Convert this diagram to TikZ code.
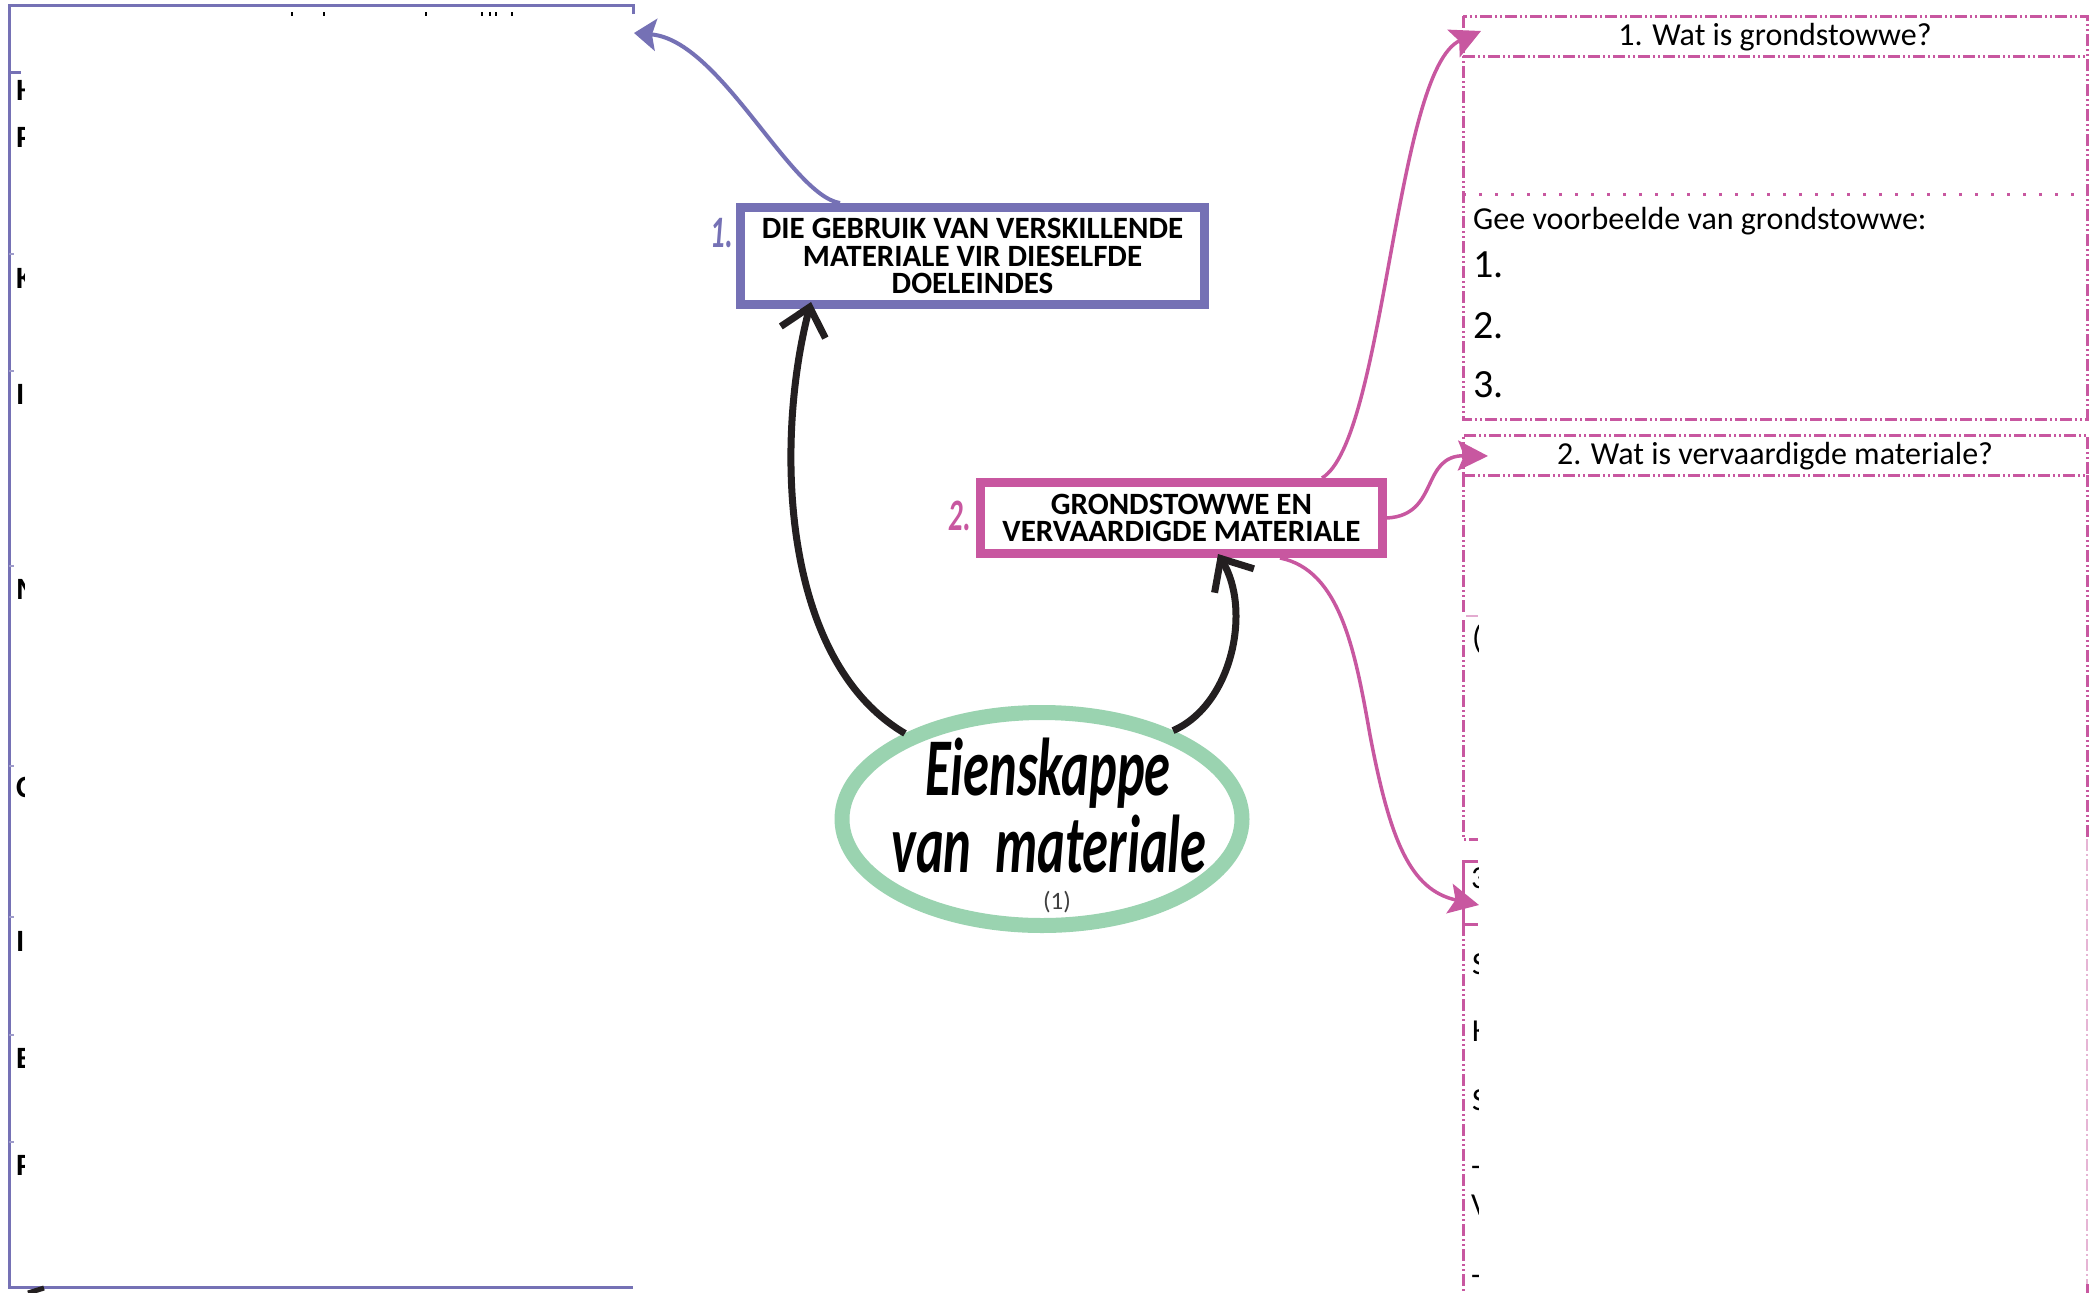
\documentclass[tikz,border=0pt]{standalone}
\usepackage{fontspec}
\setmainfont{Carlito}
\newfontfamily\handfont[FakeStretch=0.64]{Carlito}
\usetikzlibrary{arrows.meta,calc,shapes.geometric}

\definecolor{lilac}{RGB}{117,113,181}
\definecolor{rose}{RGB}{200,87,160}
\definecolor{mint}{RGB}{154,211,176}
\definecolor{ink}{RGB}{35,31,32}

\tikzset{
  topicbox/.style={draw, line width=9pt, inner sep=0pt, outer sep=4.5pt, align=center,
    font=\fontsize{31pt}{27.5pt}\selectfont\bfseries, text=black},
  pinkedge/.style={draw=rose, line width=3pt,
    dash pattern=on 12pt off 3pt on 2pt off 3pt on 2pt off 3pt},
  pinkdots/.style={draw=rose, line width=3pt, dash pattern=on 2.5pt off 13.5pt},
  headcell/.style={pinkedge, minimum width=624pt, minimum height=40pt, inner sep=0pt,
    text height=23pt, text depth=5pt, font=\fontsize{32pt}{38pt}\selectfont},
  bodytext/.style={inner sep=0pt, font=\fontsize{32pt}{38pt}\selectfont},
  bignum/.style={inner sep=0pt, font=\fontsize{40pt}{46pt}\selectfont},
  stubletter/.style={inner sep=0pt, anchor=base west, font=\fontsize{31pt}{36pt}\selectfont\bfseries},
  stubletterlight/.style={inner sep=0pt, anchor=base west, font=\fontsize{32pt}{38pt}\selectfont},
  handtext/.style={inner sep=0pt, anchor=base, text depth=0pt,
    font=\fontsize{82pt}{90pt}\selectfont\handfont\bfseries\itshape},
  handlabel/.style={inner sep=0pt, anchor=base east, font=\fontsize{45pt}{50pt}\selectfont\handfont\bfseries\itshape},
  inkarrow/.style={draw=ink, line width=7pt, -{Straight Barb[length=26pt,width=46pt]}},
  lilacarrow/.style={draw=lilac, line width=4pt, -{Stealth[length=22pt,width=32pt,inset=4pt]}},
  rosearrow/.style={draw=rose, line width=3.5pt, -{Stealth[length=30pt,width=30pt,inset=6pt]}},
}

\begin{document}
\begin{tikzpicture}[x=1pt,y=-1pt]
\fill[white] (0,0) rectangle (2099,1293);
\useasboundingbox (0,0) rectangle (2099,1293);

% ---------- left worksheet panel (purple) ----------
\draw[lilac, line width=3pt] (633,14) -- (633,5) -- (9,5) -- (9,1287) -- (633,1287);
\draw[lilac, line width=3pt] (9,72) -- (21,72);
\foreach \yy in {254,371,566,766,917,1035,1142}
  \draw[lilac!70, line width=2pt] (9,\yy) -- (14,\yy);
\foreach \xx in {292,324,426,482,490,496,512}
  \draw[black, line width=2pt] (\xx,12) -- (\xx,16);
\begin{scope}
  \clip (10.5,60) rectangle (24.5,1285);
  \node[stubletter] (lh) at (16,100) {H};
  \node[stubletter] (lp) at (16,147) {P};
  \node[stubletter] (lk) at (16,288) {K};
  \node[stubletter] (li) at (16,404) {I};
  \node[stubletter] (lm) at (16,599) {M};
  \node[stubletter] (lc) at (16,797) {C};
  \node[stubletter] (li2) at (16,951) {I};
  \node[stubletter] (le) at (16,1068) {E};
  \node[stubletter] (lp2) at (16,1175) {P};
\end{scope}
\coordinate (lefthook) at (634,33);
\draw[ink, line width=5pt] (28,1293) -- (44,1288);

% ---------- right worksheet panels (pink) ----------
% panel 1
\draw[pinkedge] (1463,16) rectangle (2087,419);
\node[headcell, draw=none] (q1head) at (1775,36) {1. Wat is grondstowwe?};
\draw[pinkedge] (1463,56) -- (2087,56);
\draw[pinkdots] (1463,194) -- (2087,194);
\node[bodytext, anchor=base west] (q1ask) at (1473,229) {Gee voorbeelde van grondstowwe:};
\node[bignum, anchor=base west] (q1a) at (1473,277) {1.};
\node[bignum, anchor=base west] (q1b) at (1473,338) {2.};
\node[bignum, anchor=base west] (q1c) at (1473,397) {3.};
\coordinate (q1in) at (1481,31);

% panel 2
\node[headcell] (q2head) at (1775,455) {2. Wat is vervaardigde materiale?};
\draw[pinkedge] (1463,475) -- (1463,612);
\draw[pinkedge] (1463,620) -- (1463,839) -- (1478,839);
\draw[pinkedge] (2087,475) -- (2087,839);
\draw[rose!45, line width=1.5pt, dash pattern=on 12pt off 3pt on 2pt off 3pt] (2087,839) -- (2087,1284);
\draw[rose, line width=3pt] (2087,1284) -- (2087,1293);
\draw[rose!50, line width=2pt] (1466,616) -- (1478,616);
\begin{scope}
  \clip (1465,600) rectangle (1478.5,700);
  \node[stubletterlight] (q2frag) at (1472,648) {(};
\end{scope}
\coordinate (q2in) at (1488,456);

% panel 3
\draw[rose, line width=3pt] (1478,861) -- (1463,861) -- (1463,924) -- (1478,924);
\draw[pinkedge] (1463,924) -- (1463,1293);
\begin{scope}
  \clip (1465,862) rectangle (1478.5,1293);
  \node[stubletterlight] (q3num) at (1471,888) {3};
  \node[stubletterlight] (q3s) at (1472,974) {S};
  \node[stubletterlight] (q3k) at (1472,1041) {K};
  \node[stubletterlight] (q3s2) at (1472,1110) {S};
  \node[stubletterlight] (q3d) at (1471,1176) {-};
  \node[stubletterlight] (q3v) at (1471,1215) {V};
  \node[stubletterlight] (q3d2) at (1471,1285) {-};
\end{scope}
\coordinate (q3in) at (1479,905);

% ---------- central topic boxes ----------
\node[topicbox, draw=lilac, minimum width=464pt, minimum height=97pt] (box1) at (972.5,256)
  {DIE GEBRUIK VAN VERSKILLENDE\\MATERIALE VIR DIESELFDE\\DOELEINDES};
\node[handlabel, text=lilac] (num1) at (733,247) {1.};

\node[topicbox, draw=rose, minimum width=402pt, minimum height=71pt] (box2) at (1181.5,518)
  {GRONDSTOWWE EN\\VERVAARDIGDE MATERIALE};
\node[handlabel, text=rose] (num2) at (971,530) {2.};

% ---------- core ellipse ----------
\node[draw=mint, line width=15pt, ellipse, minimum width=400pt, minimum height=213pt,
      inner sep=0pt, outer sep=7.5pt] (core) at (1042,819) {};
\node[handtext] (core1) at (1048,795) {Eienskappe};
\node[handtext] (core2) at (1049,872) {van\ \ materiale};
\node[inner sep=0pt, text=black!75, font=\fontsize{25pt}{30pt}\selectfont] (core3) at (1057,902) {(1)};

% ---------- connectors ----------
\draw[inkarrow] (core.148) .. controls (780,660) and (775,440) .. ($(box1.south west)+(75,-7)$);
\draw[inkarrow] (core.34) .. controls (1232,705) and (1252,610) .. ($(box2.south)+(36.5,-4)$);

\draw[lilacarrow] ($(box1.north west)+(104,0)$) .. controls (790,195) and (720,40) .. (lefthook);

\draw[rosearrow] ($(box2.north west)+(346,0)$) .. controls (1385,440) and (1395,70) .. (q1in);
\draw[rosearrow] (box2.east) .. controls (1440,515) and (1420,455) .. (q2in);
\draw[rosearrow] ($(box2.south)+(98.5,0)$) .. controls (1340,570) and (1355,650) .. (1370,735)
  .. controls (1390,840) and (1410,890) .. (q3in);
\end{tikzpicture}
\end{document}
